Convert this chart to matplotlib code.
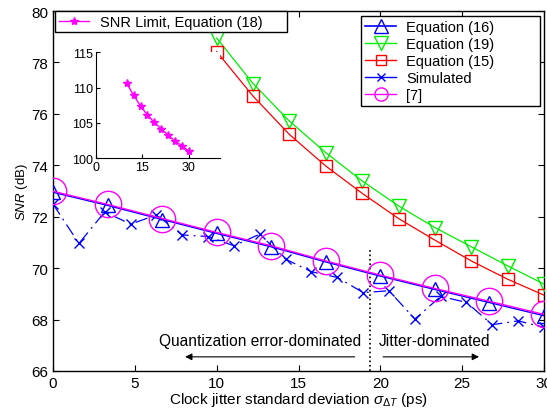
import matplotlib
matplotlib.use("Agg")
import matplotlib.pyplot as plt
from matplotlib.lines import Line2D
import numpy as np

plt.rcParams['font.family'] = ['Liberation Sans', 'DejaVu Sans']
plt.rcParams['mathtext.fontset'] = 'custom'
plt.rcParams['mathtext.rm'] = 'Liberation Sans'
plt.rcParams['mathtext.it'] = 'Liberation Sans:italic'
plt.rcParams['mathtext.cal'] = 'Liberation Sans'

# ---- data ----
x_eq16 = [0, 3.33, 6.67, 10, 13.33, 16.67, 20, 23.33, 26.67, 30]
y_eq16 = [72.95, 72.44, 71.89, 71.35, 70.83, 70.24, 69.69, 69.17, 68.66, 68.15]

x_ref7 = [0, 3.33, 6.67, 10, 13.33, 16.67, 20, 23.33, 26.67, 30]
y_ref7 = [72.99, 72.48, 71.93, 71.39, 70.87, 70.28, 69.73, 69.21, 68.71, 68.20]

x_eq19 = [10, 12.22, 14.44, 16.67, 18.89, 21.11, 23.33, 25.56, 27.78, 30]
y_eq19 = [78.95, 77.18, 75.72, 74.49, 73.39, 72.42, 71.58, 70.83, 70.09, 69.38]

x_eq15 = [10, 12.22, 14.44, 16.67, 18.89, 21.11, 23.33, 25.56, 27.78, 30]
y_eq15 = [78.42, 76.69, 75.20, 73.97, 72.91, 71.93, 71.09, 70.28, 69.57, 68.95]

x_sim = [0, 1.58, 3.16, 4.74, 6.32, 7.89, 9.47, 11.05, 12.63, 14.21,
         15.79, 17.37, 18.95, 20.53, 22.11, 23.68, 25.26, 26.84, 28.42, 30]
y_sim = [72.49, 70.96, 72.19, 71.71, 72.07, 71.29, 71.23, 70.87, 71.32, 70.35,
         69.86, 69.64, 69.05, 69.12, 68.02, 68.90, 68.67, 67.80, 67.95, 67.70]

x_lim18 = [10, 12.22, 14.44, 16.67, 18.89, 21.11, 23.33, 25.56, 27.78, 30]
y_lim18 = [110.6, 108.9, 107.4, 106.1, 105.1, 104.15, 103.3, 102.4, 101.8, 101.0]

x_ticks = [0, 5, 10, 15, 20, 25, 30]
y_ticks = [66, 68, 70, 72, 74, 76, 78, 80]
inset_xticks = [0, 15, 30]
inset_yticks = [100, 105, 110, 115]
boundary_x = 19.35

BLUE, GREEN, RED, MAG = '#0000ff', '#00ee00', '#ff0000', '#ff00ff'

# ---- figure ----
fig = plt.figure(figsize=(5.47, 4.10), dpi=100)
ax = fig.add_axes([0.097, 0.0927, 0.8975, 0.878])

ax.plot(x_eq16, y_eq16, '-', color=BLUE, lw=1.0, marker='^',
        ms=10.5, mfc='none', mec=BLUE, mew=1.0, zorder=3)
ax.plot(x_eq19, y_eq19, '-', color=GREEN, lw=0.9, marker='v',
        ms=10.5, mfc='none', mec=GREEN, mew=1.0, zorder=3)
ax.plot(x_eq15, y_eq15, '-', color=RED, lw=0.9, marker='s',
        ms=8.5, mfc='none', mec=RED, mew=1.0, zorder=3)
lsim, = ax.plot(x_sim, y_sim, color=BLUE, lw=0.9, marker='x', ms=7,
                mew=1.0, zorder=3)
lsim.set_dashes([10, 4, 1.5, 4])
ax.plot(x_ref7, y_ref7, '-', color=MAG, lw=1.0, marker='o',
        ms=19, mfc='none', mec=MAG, mew=1.0, zorder=3)

ax.plot([boundary_x, boundary_x], [66, 70.8], ':', color='black', lw=1.2, zorder=2)

ax.set_xlim(0, 30)
ax.set_ylim(66, 80)
ax.set_xticks(x_ticks)
ax.set_yticks(y_ticks)
ax.tick_params(direction='in', top=True, right=True, labelsize=11, length=4, width=0.8)
for s in ax.spines.values():
    s.set_linewidth(1.0)

ax.set_xlabel(r'Clock jitter standard deviation $\sigma_{\Delta T}$ (ps)', fontsize=11, labelpad=0)
ax.set_ylabel(r'$\mathit{SNR}$ (dB)', fontsize=9.5, labelpad=1)

ax.text(6.5, 67.2, 'Quantization error-dominated', fontsize=11.2, va='center', ha='left')
ax.text(19.9, 67.2, 'Jitter-dominated', fontsize=11.2, va='center', ha='left')
ax.annotate('', xy=(7.9, 66.55), xytext=(18.6, 66.55),
            arrowprops=dict(arrowstyle='-|>', color='black', lw=0.8, mutation_scale=10))
ax.annotate('', xy=(26.2, 66.55), xytext=(20.0, 66.55),
            arrowprops=dict(arrowstyle='-|>', color='black', lw=0.8, mutation_scale=10))

# legend proxies (legend markers are drawn smaller than plot markers)
h16 = Line2D([], [], color=BLUE, lw=1.2, marker='^', ms=9.5, mfc='none', mec=BLUE, mew=1.0)
h19 = Line2D([], [], color=GREEN, lw=1.0, marker='v', ms=9.5, mfc='none', mec=GREEN, mew=1.0)
h15 = Line2D([], [], color=RED, lw=1.0, marker='s', ms=7.5, mfc='none', mec=RED, mew=1.0)
hsim = Line2D([], [], color=BLUE, lw=1.0, marker='x', ms=6, mew=1.0)
hr7 = Line2D([], [], color=MAG, lw=1.0, marker='o', ms=9.5, mfc='none', mec=MAG, mew=1.0)
labels = ['Equation (16)', 'Equation (19)', 'Equation (15)', 'Simulated', '[7]']

x0 = (361 - 53) / 491.0
w = (540 - 361) / 491.0
leg = ax.legend(handles=[h16, h19, h15, hsim, hr7], labels=labels, loc='upper left',
                bbox_to_anchor=(x0, 0.5, w, 0.486), mode='expand', borderaxespad=0,
                fontsize=10.5, fancybox=False, edgecolor='black', framealpha=1,
                handlelength=2.1, borderpad=0.3, labelspacing=0.2, handletextpad=0.7)
leg.get_frame().set_linewidth(1.0)
ax.add_artist(leg)

# inset
axi = fig.add_axes([0.175, 0.6115, 0.227, 0.2585])
axi.set_facecolor('white')
lsnr, = axi.plot(x_lim18, y_lim18, '-', color=MAG, lw=1.0, marker='*', ms=6,
                 mec=MAG, mfc=MAG)
axi.set_xlim(0, 40)
axi.set_ylim(100, 115)
axi.set_xticks(inset_xticks)
axi.set_yticks(inset_yticks)
axi.tick_params(direction='in', labelsize=9, length=3, width=0.8, pad=2)
axi.spines['top'].set_visible(False)
axi.spines['right'].set_visible(False)

hsnr = Line2D([], [], color=MAG, lw=1.0, marker='*', ms=6, mec=MAG, mfc=MAG)
x2 = (55 - 53) / 491.0
w2 = (287 - 55) / 491.0
leg2 = ax.legend(handles=[hsnr], labels=['SNR Limit, Equation (18)'], loc='upper left',
                 bbox_to_anchor=(x2, 0.5, w2, 0.5), mode='expand', borderaxespad=0,
                 fontsize=10.5, fancybox=False, edgecolor='black', framealpha=1,
                 handlelength=2.1, borderpad=0.25, handletextpad=0.7)
leg2.get_frame().set_linewidth(1.0)

fig.savefig('out.png', dpi=100)
